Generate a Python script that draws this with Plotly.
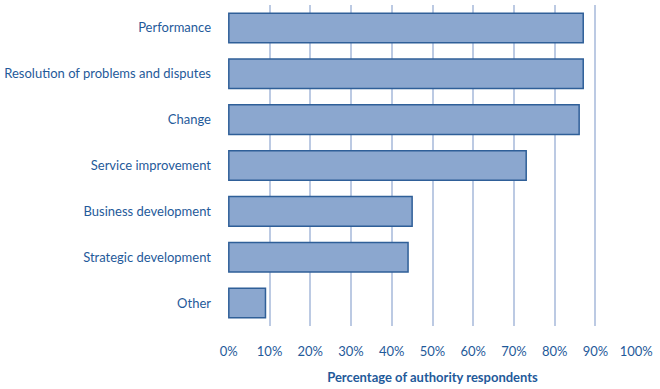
import plotly.graph_objects as go

categories = ["Performance", "Resolution of problems and disputes", "Change",
              "Service improvement", "Business development", "Strategic development", "Other"]
values = [87, 87, 86, 73, 45, 44, 9]
tick_vals = [0, 10, 20, 30, 40, 50, 60, 70, 80, 90, 100]
tick_text = [f"{v}%" for v in tick_vals]

text_color = "#1f5a9a"

fig = go.Figure(go.Bar(
    x=values, y=categories, orientation="h",
    marker=dict(color="#8ba7cf", line=dict(color="#2f5f98", width=1.5)),
    width=0.645,
))

fig.update_layout(
    width=660, height=389,
    margin=dict(l=228, r=23, t=5, b=63),
    plot_bgcolor="white", paper_bgcolor="white",
    font=dict(family="Lato, Open Sans, sans-serif", size=13, color=text_color),
    showlegend=False,
    bargap=0.355,
)
fig.update_xaxes(
    range=[-0.2, 100.2], tickvals=tick_vals, ticktext=tick_text,
    showgrid=True, gridcolor="#bccae3", gridwidth=1.5,
    zeroline=False, showline=False, automargin=False,
    ticks="", ticklabelstandoff=16,
    tickfont=dict(size=13, color=text_color),
    title=dict(text="<b>Percentage of authority respondents</b>",
               font=dict(size=13, color=text_color), standoff=14),
)
fig.update_yaxes(
    categoryorder="array", categoryarray=categories[::-1],
    range=[-0.5, 6.5], automargin=False,
    showgrid=False, zeroline=False, showline=False,
    ticks="", ticklabelstandoff=16,
    tickfont=dict(size=13, color=text_color),
)

fig.write_html("out.html", config={"displayModeBar": False},
               post_script="document.body.style.margin='0px';document.body.style.overflow='hidden';")
